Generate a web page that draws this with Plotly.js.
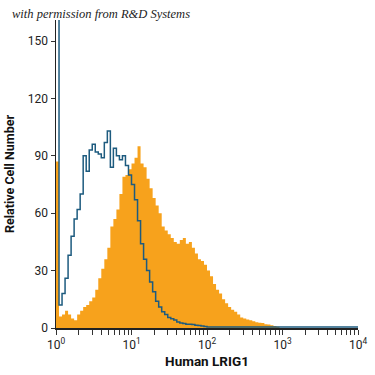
<!DOCTYPE html>
<html><head><meta charset="utf-8">
<script src="https://cdn.plot.ly/plotly-3.0.1.min.js"></script>
<style>html,body{margin:0;padding:0;background:#fff}#chart{width:375px;height:375px}</style>
</head><body><div id="chart"></div>
<script>
// histogram channels: each bin spans 0.04 decade, starting at 10^0
const binWidthDecades = 0.04;
const lrig1Counts = [87,6,7,9,7,5,4,7,9,11, 12,14,16,20,26,31,36,42,53,57,
  62,70,79,80,83,86,89,95,86,84, 78,73,68,64,60,53,51,49,47,45,
  44,46,47,44,45,42,39,36,35,33, 30,27,23,20,18,15,13,11,9.5,8.5,
  7,5.5,5,4.5,4,3.5,3,2.8,2.6,2, 1.8,1.4,1,0.6,0];
const isotypeCounts = [200,12,18,26,38,48,57,62,70,90, 82,93,96,92,91,89,97,103,84,94,
  90,88,90,85,80,75,67,56,44,36, 30,24,19,14,11,8.5,7,5.5,4.8,4.2,
  3.2,2.6,2.3,2,2,1.8,1.5,1.3,1,0.8,
  0.5,0.5,0.5,0.5,0.5,0.5,0.5,0.5,0.5,0.5, 0.5,0.5,0.5,0.5,0.5,0.5,0.5,0.5,0.5,0.5,
  0.5,0.5,0.5,0.5,0.5,0.5,0.5,0.5,0.5,0.5, 0.5,0.5,0.5,0.5,0.5,0.5,0.5,0.5,0.5,0.5,
  0.5,0.5,0.5,0.5,0.5,0.5,0.5,0.5,0.5,0.5];
const xMajorTicks = [1,10,100,1000,10000];
const xMajorLabels = ['10<sup>0</sup>','10<sup>1</sup>','10<sup>2</sup>','10<sup>3</sup>','10<sup>4</sup>'];
const xMinorTicks = [2,3,4,5,6,7,8,9,20,30,40,50,60,70,80,90,200,300,400,500,600,700,800,900,2000,3000,4000,5000,6000,7000,8000,9000];
const yTickValues = [0,30,60,90,120,150];
const xTitle = 'Human LRIG1';
const yTitle = 'Relative Cell Number';
const credit = 'with permission from R&amp;D Systems';

function stepSeries(counts){
  const xs = [], ys = [];
  for (let i = 0; i < counts.length; i++){ xs.push(Math.pow(10, i*binWidthDecades)); ys.push(counts[i]); }
  xs.push(Math.pow(10, counts.length*binWidthDecades)); ys.push(counts[counts.length-1]);
  return {xs, ys};
}
const o = stepSeries(lrig1Counts), b = stepSeries(isotypeCounts);
const sans = 'Roboto, "Liberation Sans", sans-serif';

const traces = [
  {x:o.xs, y:o.ys, type:'scatter', mode:'lines', line:{shape:'hv', width:0, color:'#f7a21c'},
   fill:'tozeroy', fillcolor:'#f7a21c', hoverinfo:'skip'},
  {x:b.xs, y:b.ys, type:'scatter', mode:'lines', line:{shape:'hv', width:1.5, color:'#1d5b7f'}, hoverinfo:'skip'}
];
const layout = {
  width:375, height:375, showlegend:false,
  paper_bgcolor:'#fff', plot_bgcolor:'#fff',
  margin:{l:56, r:17, t:20, b:47},
  xaxis:{type:'log', range:[0,4], tickmode:'array', tickvals:xMajorTicks, ticktext:xMajorLabels,
    ticks:'outside', ticklen:5, tickcolor:'#333', tickwidth:1,
    minor:{tickmode:'array', tickvals:xMinorTicks, ticks:'outside', ticklen:5, tickcolor:'#333', tickwidth:1, showgrid:false},
    showline:true, linecolor:'#222', linewidth:1.5, showgrid:false, zeroline:false,
    tickfont:{family:sans, size:12, color:'#222'},
    title:{text:xTitle, font:{family:sans, size:13.5, color:'#111', weight:'bold'}, standoff:5}},
  yaxis:{range:[0,161], tickvals:yTickValues, ticks:'outside', ticklen:4, tickcolor:'#333',
    showline:true, linecolor:'#222', linewidth:1.5, showgrid:false, zeroline:false,
    tickfont:{family:sans, size:12, color:'#222'},
    title:{text:yTitle, font:{family:sans, size:12.5, color:'#111', weight:'bold'}, standoff:10}},
  annotations:[{text:credit, xref:'paper', yref:'paper', x:-0.152, y:1.018, xanchor:'left', yanchor:'middle',
    showarrow:false, font:{family:'"Liberation Serif", serif', size:12.5, style:'italic', color:'#222'}}]
};
Plotly.newPlot('chart', traces, layout, {staticPlot:true, displayModeBar:false});
</script></body></html>
